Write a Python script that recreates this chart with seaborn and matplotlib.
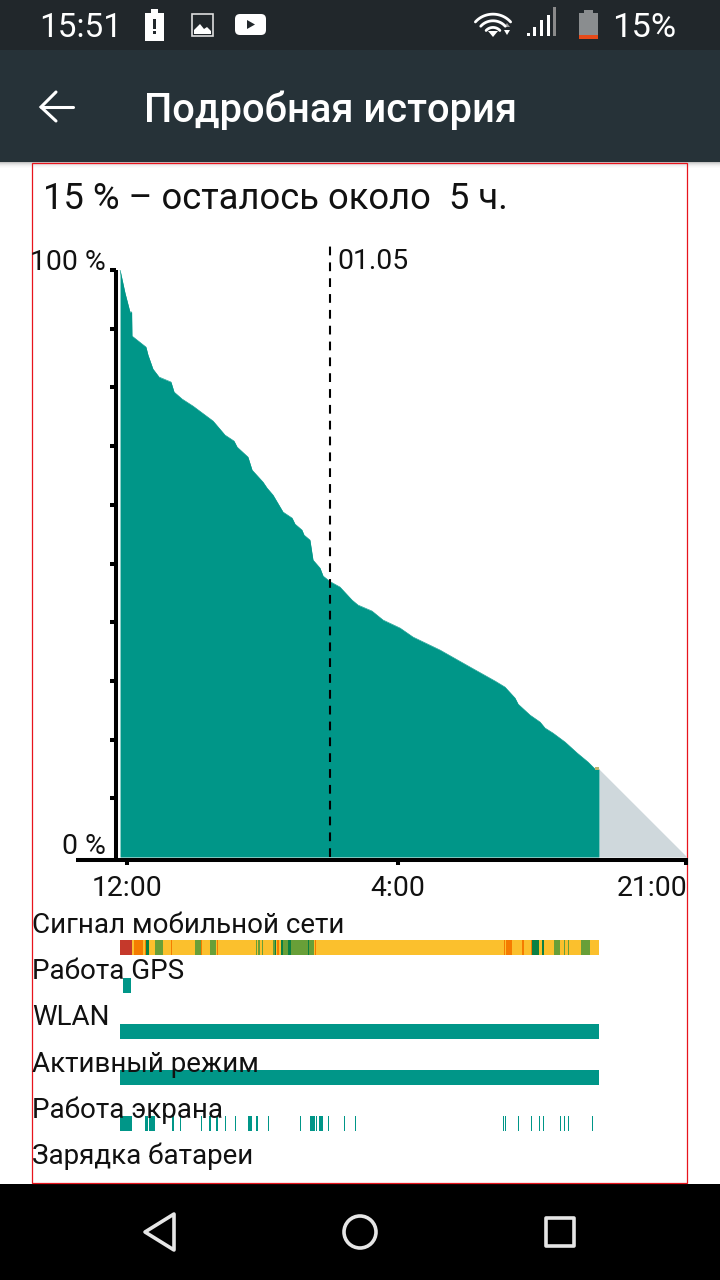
import numpy as np
import matplotlib
matplotlib.use("Agg")
import matplotlib.pyplot as plt
import seaborn as sns
from matplotlib.patches import Rectangle, Circle, Polygon, FancyBboxPatch
from matplotlib.transforms import ScaledTranslation

# ---------- data (hours since 12:00, percent) ----------
hours = [-0.29, 0.00, 0.29, 0.39, 0.41, 1.23, 1.35, 1.64, 2.00, 2.70, 2.88, 3.35, 3.99, 5.17,
         5.87, 6.40, 6.58, 7.22, 7.46, 8.10, 8.34, 8.69, 9.28, 9.81, 9.98, 10.39, 10.51, 10.86,
         11.04, 11.45, 11.63, 12.04, 12.62, 13.33, 13.68, 14.50, 15.15, 16.15, 16.91, 18.50,
         20.26, 21.73, 22.31, 22.90, 23.08, 23.78, 24.37, 24.66, 25.13, 25.84, 26.55, 27.19,
         27.60, 27.83]
battery = [100.0, 96.1, 92.85, 92.85, 88.76, 86.88, 85.52, 83.14, 81.77, 80.92, 79.22, 78.03,
           76.83, 74.28, 71.89, 70.87, 69.85, 68.14, 65.93, 63.89, 62.86, 61.67, 58.77, 57.75,
           56.73, 55.71, 54.86, 54.0, 50.6, 49.23, 47.87, 46.93, 46.0, 43.78, 42.93, 41.91,
           40.38, 39.01, 37.48, 35.26, 32.37, 29.98, 28.96, 27.09, 26.06, 24.19, 23.0, 21.98,
           21.12, 19.59, 17.72, 16.18, 14.99, 14.99]
forecast_hours = [27.83, 33.0]
forecast_battery = [14.99, 0.0]

y_ticks = [0, 10, 20, 30, 40, 50, 60, 70, 80, 90, 100]
y_labels = ["0 %", "", "", "", "", "", "", "", "", "", "100 %"]
x_ticks = [0.12, 16.03, 32.97]
x_labels = ["12:00", "4:00", "21:00"]
midnight = 12.04
date_label = "01.05"
headline = "15 % – осталось около  5 ч."
screen_title = "Подробная история"
row_names = ["Сигнал мобильной сети", "Работа GPS", "WLAN", "Активный режим",
             "Работа экрана", "Зарядка батареи"]

signal_edges = [-0.29, 0.41, 0.53, 1.06, 1.17, 1.23, 1.41, 1.76, 2.23, 2.70, 2.76, 4.11, 4.46,
                4.52, 4.99, 5.34, 5.40, 5.46, 7.69, 7.75, 7.81, 7.93, 8.04, 8.10, 8.69, 8.81,
                8.87, 8.93, 9.04, 9.16, 9.28, 9.57, 9.75, 10.75, 10.80, 11.10, 11.16, 11.22,
                22.25, 22.31, 22.37, 22.72, 23.31, 23.43, 23.84, 23.90, 24.31, 24.49, 24.60,
                25.19, 25.54, 25.78, 25.84, 26.01, 26.07, 26.78, 27.30, 27.83]
signal_levels = list("ryoyodylyoylo" "ylyoylylylyl" "dyoydldldlyoy" "oyoyoyod" "ydylylylyly")
gps_spans = [(-0.12, 0.35)]
wlan_spans = [(-0.29, 27.83)]
active_spans = [(-0.29, 27.83)]
screen_spans = [(-0.29, 0.41), (1.17, 1.35), (1.41, 1.76), (2.76, 2.88), (3.23, 3.29),
                (4.46, 4.52), (4.93, 5.05), (5.34, 5.46), (5.87, 5.93), (6.46, 6.52),
                (7.22, 7.46), (7.69, 7.81), (8.40, 8.46), (10.28, 10.33), (10.86, 11.16),
                (11.22, 11.27), (11.39, 11.63), (11.92, 11.98), (12.86, 12.92), (13.51, 13.57),
                (22.20, 22.25), (22.31, 22.37), (23.08, 23.13), (23.84, 23.90), (24.31, 24.37),
                (24.55, 24.60), (25.54, 25.60), (25.78, 25.84), (26.01, 26.07), (27.42, 27.48)]

# ---------- styles ----------
TEAL = "#009688"
GREY = "#cfd8dc"
SIGNAL_COLORS = {"r": "#c5392b", "o": "#f57c00", "y": "#fbc02d", "l": "#689f38", "d": "#0b8043"}
LABEL_SIZE = 20.4

sns.set_theme(style="white")
plt.rcParams["font.family"] = ["Roboto", "DejaVu Sans"]

W, H = 720, 1280
fig = plt.figure(figsize=(W / 100, H / 100), dpi=100, facecolor="white")


def rect(l, t, r, b):
    return [l / W, 1 - b / H, (r - l) / W, (b - t) / H]


def ftext(x, y, s, **kw):
    fig.text(x / W, 1 - y / H, s, **kw)


# ---------- device chrome, in pixel coordinates ----------
ui = fig.add_axes([0, 0, 1, 1], zorder=0)
ui.set_xlim(0, W)
ui.set_ylim(H, 0)
ui.axis("off")
ui.add_patch(Rectangle((0, 0), W, 50, color="#21272b", lw=0))
ui.add_patch(Rectangle((0, 50), W, 112, color="#263238", lw=0))
ui.add_patch(Rectangle((0, 1184), W, 96, color="black", lw=0))
for i, g in enumerate(["#c4c4c4", "#d8d8d8", "#e6e6e6", "#f0f0f0", "#f7f7f7", "#fbfbfb"]):
    ui.add_patch(Rectangle((0, 162 + i), W, 1, color=g, lw=0))
ui.add_patch(Rectangle((32, 162.5), 655, 1020.5, fill=False, ec="#e8141c", lw=0.9, zorder=5))

# alert icon
ui.add_patch(Rectangle((145, 13), 19, 28, color="white", lw=0))
ui.add_patch(Rectangle((151, 9), 7, 5, color="white", lw=0))
ui.add_patch(Rectangle((153, 19), 3, 10, color="#21272b", lw=0))
ui.add_patch(Rectangle((153, 31), 3, 3, color="#21272b", lw=0))
# image icon
ui.add_patch(Rectangle((192, 14), 21, 22, fill=False, ec="#dddddd", lw=1.2))
ui.add_patch(Polygon([(194, 34), (194, 30), (200, 24), (204, 29), (207, 27), (211, 31), (211, 34)],
                     closed=True, color="white", lw=0))
# play icon
ui.add_patch(FancyBboxPatch((238, 17), 25, 15, boxstyle="round,pad=3,rounding_size=5", color="white", lw=0))
ui.add_patch(Polygon([(247, 20), (247, 29), (255, 24.5)], closed=True, color="#21272b", lw=0))
# wifi
for r, lw in [(9, 2.0), (16, 2.0), (23, 2.0)]:
    a = np.radians(np.linspace(-140, -40, 30))
    ui.plot(493 + r * np.cos(a), 36 + r * 0.95 * np.sin(a), color="white", lw=lw, solid_capstyle="round")
ui.add_patch(Polygon([(488, 31), (498, 31), (493, 37)], closed=True, color="white", lw=0))
ui.add_patch(Polygon([(504, 27), (510, 27), (507, 23)], closed=True, color="#999999", lw=0))
ui.add_patch(Polygon([(504, 30), (510, 30), (507, 35)], closed=True, color="white", lw=0))
# signal bars
for x, top, c in [(528, 33, "white"), (534, 27, "white"), (541, 20, "white"), (548, 15, "white"), (554, 7, "#8a8a8a")]:
    ui.add_patch(Rectangle((x - 1, top), 3, 36 - top, color=c, lw=0))
# battery
ui.add_patch(Rectangle((579, 13), 19, 22, color="#8a8d8f", lw=0))
ui.add_patch(Rectangle((584, 10), 9, 3, color="#8a8d8f", lw=0))
ui.add_patch(Rectangle((579, 35), 19, 4, color="#e64a19", lw=0))
# back arrow
ui.plot([41, 73], [107, 107], color="white", lw=2.2)
ui.plot([56, 41, 56], [92, 107, 121], color="white", lw=2.2, solid_joinstyle="miter")
# nav buttons
ui.add_patch(Polygon([(145, 1232), (174, 1214), (174, 1250)], closed=True, fill=False, ec="#e6e6e6", lw=2.6, joinstyle="round"))
ui.add_patch(Circle((360, 1232), 16, fill=False, ec="#e6e6e6", lw=2.6))
ui.add_patch(Rectangle((545.5, 1217.5), 28, 28, fill=False, ec="#e6e6e6", lw=2.6, joinstyle="round"))

# ---------- battery chart ----------
ax = fig.add_axes(rect(76, 270, 688, 860), zorder=2)
ax.patch.set_alpha(0)
ax.set_xlim(-2.877, 33.06)
ax.set_ylim(-0.51, 100)
ax.fill_between(hours, 0, battery, color=TEAL, lw=0, zorder=2)
sns.lineplot(x=hours, y=battery, ax=ax, color=TEAL, lw=0.4, sort=False, estimator=None, zorder=2)
ax.fill_between(forecast_hours, 0, forecast_battery, color=GREY, lw=0, zorder=1)
ax.add_patch(Rectangle((27.60, 14.74), 0.23, 0.6, color="#bcb56e", lw=0, zorder=3))

ax.plot([midnight, midnight], [0, 105.1], color="black", lw=1.5, dashes=(4.2, 3.4), clip_on=False, zorder=4)
ax.text(12.5, 101.5, date_label, fontsize=LABEL_SIZE, color="#111111", va="center", ha="left")

sns.despine(ax=ax)
ax.spines["left"].set_position(("data", -0.53))
for s in ("left", "bottom"):
    ax.spines[s].set_linewidth(2.9)
    ax.spines[s].set_color("black")
    ax.spines[s].set_capstyle("butt")
ax.set_xticks(x_ticks, x_labels)
ax.set_yticks(y_ticks, y_labels)
ax.tick_params(axis="x", length=3.8, width=2.9, color="black", pad=7.3, labelsize=LABEL_SIZE, labelcolor="#111111", bottom=True)
ax.tick_params(axis="y", length=4.4, width=2.9, color="black", pad=2.6, labelsize=LABEL_SIZE, labelcolor="#111111", left=True)
ax.set_xlabel("")
ax.set_ylabel("")
ax.yaxis.get_major_ticks()[0].tick1line.set_visible(False)
ylabs = ax.get_yticklabels()
ylabs[0].set_transform(ylabs[0].get_transform() + ScaledTranslation(0, 14 / 100, fig.dpi_scale_trans))
ylabs[-1].set_transform(ylabs[-1].get_transform() + ScaledTranslation(0, 11 / 100, fig.dpi_scale_trans))
ax.get_xticklabels()[-1].set_ha("right")
ax.get_xticklabels()[-1].set_transform(ax.get_xticklabels()[-1].get_transform() + ScaledTranslation(1 / 100, 0, fig.dpi_scale_trans))

# ---------- activity strips, y axis in screen rows ----------
st = fig.add_axes(rect(76, 930, 688, 1170), zorder=1)
st.patch.set_alpha(0)
st.set_xlim(ax.get_xlim())
st.set_ylim(1170, 930)
st.axis("off")
ROW_H = 15
sig_colors = [SIGNAL_COLORS[c] for c in signal_levels]
st.broken_barh([(a, b - a) for a, b in zip(signal_edges[:-1], signal_edges[1:])], (940, ROW_H),
               facecolors=sig_colors, linewidth=0)
for spans, top in [(gps_spans, 978), (wlan_spans, 1024), (active_spans, 1070), (screen_spans, 1116)]:
    st.broken_barh([(a, b - a) for a, b in spans], (top, ROW_H), facecolors=TEAL, linewidth=0)

# ---------- text ----------
for name, base in zip(row_names, [933, 979, 1025, 1071.5, 1118, 1164]):
    ftext(32.3, base, name, fontsize=20.0, color="#111111", va="baseline", ha="left")
ftext(43, 209, headline, fontsize=26.2, color="#111111", va="baseline", ha="left")
ftext(144.5, 122, screen_title, fontsize=28.7, color="white", fontweight="medium", va="baseline", ha="left")
ftext(39.5, 37, "15:51", fontsize=24, color="white", va="baseline", ha="left")
ftext(612.5, 37, "15%", fontsize=24.8, color="white", va="baseline", ha="left")

fig.savefig("out.png", dpi=100)
